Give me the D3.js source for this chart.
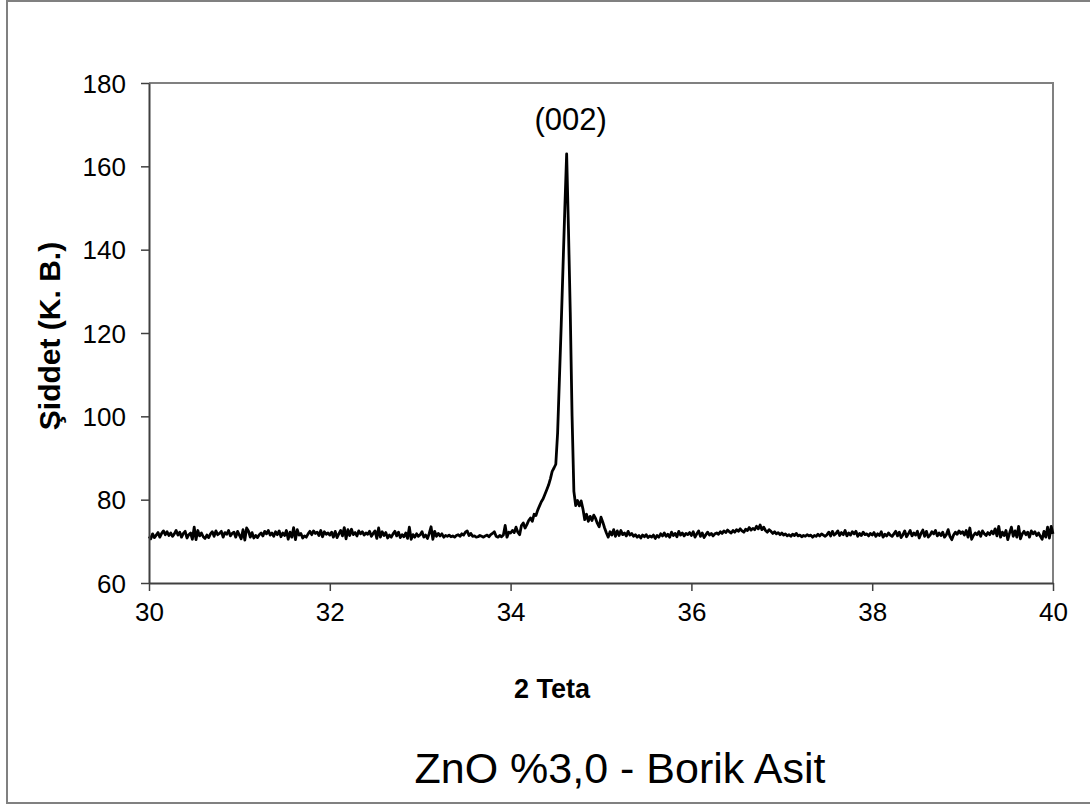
<!DOCTYPE html>
<html><head><meta charset="utf-8">
<script src="https://cdn.jsdelivr.net/npm/d3@7"></script>
<style>body{margin:0;background:#fff}svg{display:block}text{font-family:"Liberation Sans",Arial,sans-serif}</style>
</head><body>
<script>
const startTheta = 30, stepTheta = 0.02;
const intensity = [
71.2,70.6,71.8,70.9,71.5,72.1,71.0,71.9,72.5,71.6,72.3,71.4,72.0,71.2,71.8,72.6,71.5,72.2,71.0,71.9,72.4,70.8,71.6,72.0,70.5,
73.4,70.4,72.6,71.3,72.0,71.1,70.7,71.5,70.9,71.8,72.3,71.2,72.5,71.6,71.9,72.4,71.0,72.1,71.7,72.6,71.3,71.9,72.2,71.0,72.4,
71.5,70.6,72.8,70.3,73.2,72.5,71.0,72.1,70.8,71.4,70.9,71.6,72.0,71.3,72.4,71.8,72.6,71.5,72.0,71.2,72.3,71.6,72.5,71.1,72.0,
71.4,72.6,70.5,72.2,71.0,73.3,70.4,72.8,71.5,71.9,70.8,71.3,71.0,71.8,72.4,71.6,72.5,71.9,72.2,71.4,72.6,71.1,72.3,71.7,72.0,
71.5,72.2,71.0,72.4,70.9,71.8,72.6,71.3,73.3,70.6,72.8,71.4,72.9,71.6,72.1,71.3,72.5,71.8,72.3,71.5,72.0,71.7,72.4,71.2,71.9,
72.5,70.7,73.2,71.0,72.3,71.4,72.1,70.8,71.5,71.0,71.8,72.4,71.3,72.2,70.9,71.6,71.1,72.0,70.7,73.4,70.5,71.6,71.0,71.8,71.2,
71.6,72.3,71.0,71.5,70.7,71.9,73.5,70.5,72.4,71.2,71.9,71.3,71.8,71.0,71.4,71.2,71.5,71.1,71.3,71.0,71.4,71.6,71.2,71.8,71.5,
72.2,72.5,71.4,71.9,71.2,71.3,71.0,71.1,71.4,71.2,71.0,71.3,71.5,71.1,71.6,71.9,72.3,71.2,71.0,71.4,71.1,71.5,73.8,71.0,72.2,
72.0,72.6,72.1,73.4,72.2,71.6,73.8,74.4,73.2,74.0,75.0,75.6,74.8,76.5,76.2,77.5,78.5,79.5,80.2,81.3,82.4,83.5,85.0,86.8,87.6,
88.5,96.0,109,122,136,150,163,145,125,100,82.0,78.6,79.8,78.5,79.7,77.8,75.2,76.5,74.8,76.0,75.0,76.3,75.5,74.3,73.5,
75.8,74.6,73.2,72.0,71.0,72.3,71.5,72.8,71.2,72.5,71.4,72.6,71.6,72.0,71.3,72.4,71.5,71.9,71.2,71.6,71.0,71.4,70.8,71.5,71.1,
71.6,70.9,71.3,71.0,71.5,70.7,71.4,71.0,71.8,71.3,72.0,71.2,71.7,71.0,72.2,71.4,71.9,71.1,72.4,71.5,72.0,71.3,71.9,71.6,72.1,
71.4,72.3,71.0,71.8,72.5,71.2,72.0,70.9,71.6,72.2,71.5,71.9,71.3,71.8,72.0,71.7,72.3,71.9,72.5,72.1,72.7,72.3,72.0,72.6,72.2,
72.8,72.4,73.0,72.5,72.2,72.9,72.6,73.3,72.7,73.1,72.8,73.6,73.0,73.9,72.8,73.4,72.6,72.2,72.8,72.4,71.9,72.3,71.8,72.1,71.6,
72.0,71.5,71.8,71.3,71.6,71.2,71.7,71.4,71.9,71.3,71.5,71.1,71.4,71.2,71.6,71.3,71.5,71.0,71.4,71.2,71.7,71.3,71.8,71.5,71.2,
71.6,72.2,71.3,72.4,71.5,71.9,72.5,71.4,72.1,71.6,72.6,71.3,72.0,71.5,72.3,71.8,72.4,71.2,71.9,71.4,72.2,71.6,71.8,71.3,71.9,
71.5,72.1,71.2,71.8,71.4,72.3,71.0,71.7,71.3,72.0,71.5,71.2,71.8,72.4,71.3,72.2,70.9,71.6,72.5,71.1,71.8,72.6,71.3,72.0,71.5,
72.4,70.8,71.9,72.7,71.2,72.4,71.0,71.5,72.3,71.8,72.6,71.3,72.0,71.4,72.2,71.0,71.6,72.8,71.2,70.4,71.5,72.2,71.7,72.5,71.9,
72.3,71.5,72.6,71.0,73.2,70.5,71.4,72.0,71.6,72.3,71.2,72.5,71.8,71.4,72.1,71.6,72.4,71.8,73.0,71.3,73.6,71.0,72.2,71.4,72.6,
70.4,72.0,73.4,71.2,72.5,71.0,73.6,70.6,71.8,72.4,71.6,72.2,71.0,72.5,71.8,72.3,71.4,72.0,71.2,70.5,72.4,71.0,73.4,70.8,73.6,
71.8
];
const xTicks = [30, 32, 34, 36, 38, 40];
const yTicks = [60, 80, 100, 120, 140, 160, 180];
const peakLabels = [{theta: 34.62, value: 163, text: "(002)"}];
const xTitle = "2 Teta";
const yTitle = "Şiddet (K. B.)";
const chartTitle = "ZnO %3,0 - Borik Asit";

const W = 1090, H = 805;
const svg = d3.select("body").append("svg").attr("width", W).attr("height", H);
svg.append("rect").attr("x", 7).attr("y", 1).attr("width", 1100).attr("height", 802)
  .attr("fill", "#fff").attr("stroke", "#808080").attr("stroke-width", 2);

const L = 149, R = 1053, T = 83, B = 583;
const x = d3.scaleLinear().domain([30, 40]).range([L, R]);
const y = d3.scaleLinear().domain([60, 180]).range([B, T]);

svg.append("path").attr("d", `M${L},${T}H${R}V${B}`).attr("fill", "none")
  .attr("stroke", "#808080").attr("stroke-width", 2);

const data = intensity.map((v, i) => [startTheta + i * stepTheta, v]);
svg.append("path").datum(data)
  .attr("fill", "none").attr("stroke", "#000").attr("stroke-width", 2.8)
  .attr("stroke-linejoin", "round")
  .attr("d", d3.line().x(d => x(d[0])).y(d => y(d[1])));

const xAxis = svg.append("g").attr("transform", `translate(0,${B})`)
  .call(d3.axisBottom(x).tickValues(xTicks).tickSize(8).tickSizeOuter(0).tickPadding(8).tickFormat(d3.format("d")));
const yAxis = svg.append("g").attr("transform", `translate(${L},0)`)
  .call(d3.axisLeft(y).tickValues(yTicks).tickSize(8).tickSizeOuter(0).tickPadding(15).tickFormat(d3.format("d")));
[xAxis, yAxis].forEach(g => {
  g.select(".domain").attr("stroke", "#404040").attr("stroke-width", 2);
  g.selectAll(".tick line").attr("stroke", "#404040").attr("stroke-width", 1.5);
  g.selectAll(".tick text").attr("fill", "#000").style("font-size", "26px")
    .style("font-family", "'Liberation Sans', Arial, sans-serif");
});
xAxis.selectAll(".tick text").attr("dy", "0.85em");
yAxis.selectAll(".tick text").attr("dy", "0.35em");

svg.selectAll(".peak").data(peakLabels).enter().append("text")
  .attr("x", d => x(d.theta) + 4).attr("y", d => y(d.value) - 24)
  .attr("text-anchor", "middle").style("font-size", "31px").text(d => d.text);

svg.append("text").attr("x", 552).attr("y", 698).attr("text-anchor", "middle")
  .style("font-size", "27px").style("font-weight", "bold").text(xTitle);
svg.append("text").attr("transform", `translate(60,336) rotate(-90)`)
  .attr("text-anchor", "middle").style("font-size", "30px").style("font-weight", "bold").text(yTitle);
svg.append("text").attr("x", 620).attr("y", 783).attr("text-anchor", "middle")
  .style("font-size", "43px").text(chartTitle);
</script>
</body></html>
